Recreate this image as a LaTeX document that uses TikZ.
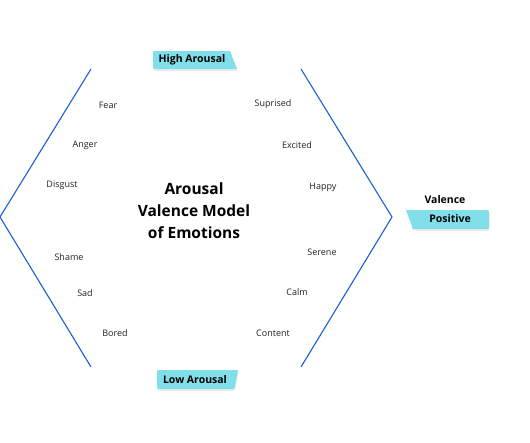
\documentclass[tikz,border=0pt]{standalone}
\usepackage{fontspec}
\setmainfont{Open Sans}
\usetikzlibrary{shadows}
\definecolor{linecol}{HTML}{1C5FCF}
\definecolor{tagcol}{HTML}{80DFE9}
\definecolor{txt}{HTML}{222222}
\begin{document}
\begin{tikzpicture}[x=1pt,y=-1pt,
  emo/.style={font=\fontsize{9}{11}\selectfont, text=txt, inner sep=0pt},
  tagtxt/.style={font=\fontsize{10.5}{12}\selectfont\bfseries, text=black, inner sep=0pt},
  tagshape/.style={fill=tagcol, drop shadow={shadow xshift=0.5pt, shadow yshift=-2pt, opacity=0.15}},
  frame/.style={draw=linecol, line width=1.1pt}]
\fill[white] (0,0) rectangle (530,442);
\useasboundingbox (0,0) rectangle (530,442);

% frame lines
\draw[frame] (91,69) -- (0,217) -- (91,367);
\draw[frame] (301,69) -- (392,217) -- (301,367);

% title
\node[align=center, font=\fontsize{15.5}{22}\selectfont\bfseries, text=black] (title) at (194,211) {Arousal\\Valence Model\\of Emotions};

% left labels
\node[emo] (fear) at (108,105) {Fear};
\node[emo] (anger) at (85,145) {Anger};
\node[emo] (disgust) at (62,185) {Disgust};
\node[emo] (shame) at (69,257) {Shame};
\node[emo] (sad) at (85,293) {Sad};
\node[emo] (bored) at (115,333) {Bored};

% right labels
\node[emo] (suprised) at (273,104) {Suprised};
\node[emo] (excited) at (297,145) {Excited};
\node[emo] (happy) at (323,187) {Happy};
\node[emo] (serene) at (322,252) {Serene};
\node[emo] (calm) at (297,292) {Calm};
\node[emo] (content) at (273,333) {Content};

% High Arousal tag
\path[tagshape] (156,51) -- (228,51) .. controls (231,51) .. (231,54) -- (237,69) -- (156,69) .. controls (153,69) .. (153,66) -- (153,54) .. controls (153,51) .. (156,51) -- cycle;
\node[tagtxt] (high) at (192,60) {High Arousal};

% Low Arousal tag
\path[tagshape] (160,370) -- (238,370) -- (235,386) .. controls (234.5,389) .. (232,389) -- (160,389) .. controls (157,389) .. (157,386) -- (157,373) .. controls (157,370) .. (160,370) -- cycle;
\node[tagtxt] (low) at (195,379.5) {Low Arousal};

% Valence tag
\node[tagtxt] (valence) at (445,200) {Valence};
\path[tagshape] (406,210) -- (486,210) .. controls (489,210) .. (489,213) -- (489,226) .. controls (489,229) .. (486,229) -- (415,229) .. controls (412,229) .. (412,226) -- cycle;
\node[tagtxt] (positive) at (450,219) {Positive};
\end{tikzpicture}
\end{document}
